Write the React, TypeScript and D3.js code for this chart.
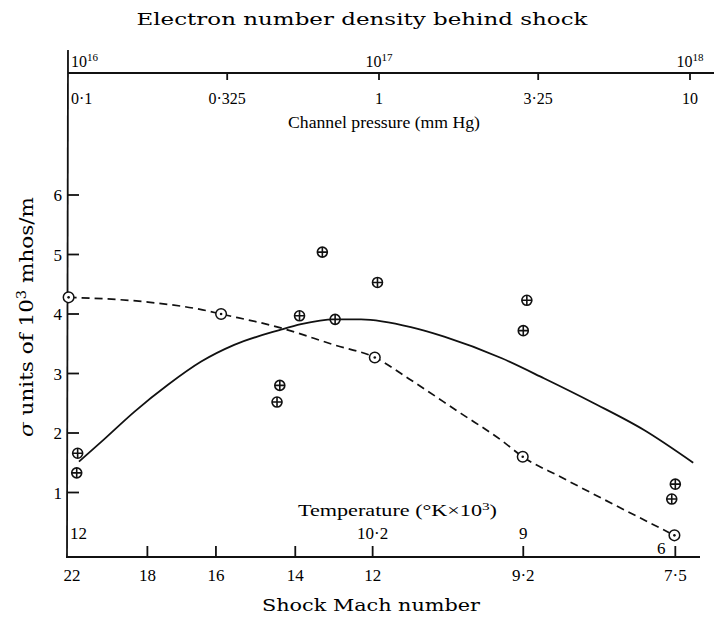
import React from 'react';
import * as d3 from 'd3';

const W = 714;
const H = 627;

// top axis: channel pressure (mm Hg)
const pressureTicks = [0.1, 0.325, 1, 3.25, 10];
const pressureLabels = ['0·1', '0·325', '1', '3·25', '10'];

// top labels: electron number density
const densityTicks = [1e16, 1e17, 1e18];
const densityExp = ['16', '17', '18'];

// bottom axis: shock Mach number, with the channel pressure it lines up with
const machTicks = [22, 18, 16, 14, 12, 9.2, 7.5];
const machLabels = ['22', '18', '16', '14', '12', '9·2', '7·5'];
const machPressure = [0.103, 0.18, 0.299, 0.538, 0.954, 2.91, 8.97];

// temperature labels (°K x 10^3) at Mach positions
const tempMach = [22, 12, 9.2, 7.5];
const tempLabels = ['12', '10·2', '9', '6'];

const sigmaTicks = [1, 2, 3, 4, 5, 6];

// measured points, circle with cross
const crossMach = [21.7, 21.75, 13.3, 13.89, 12.97, 11.91, 14.39, 14.46, 9.16, 9.2, 7.5, 7.54];
const crossSigma = [1.66, 1.33, 5.04, 3.97, 3.91, 4.53, 2.8, 2.52, 4.23, 3.72, 1.14, 0.89];

// measured points, circle with dot
const dotMach = [22.18, 15.87, 11.96, 9.21, 7.51];
const dotSigma = [4.28, 4.0, 3.27, 1.6, 0.28];

// solid curve
const solidMach = [21.63, 20.45, 18.68, 17.4, 16.43, 15.54, 14.4, 13.85, 12.99, 12.3, 11.29, 10.67, 9.61, 8.97, 8.41, 7.85, 7.3];
const solidSigma = [1.52, 1.85, 2.36, 2.81, 3.2, 3.48, 3.73, 3.83, 3.91, 3.91, 3.78, 3.62, 3.26, 2.92, 2.5, 2.05, 1.5];

// dashed curve
const dashMach = [22.18, 17.98, 16.39, 15.87, 14.44, 12.99, 11.96, 11.29, 10.36, 9.61, 9.21, 8.78, 7.51];
const dashSigma = [4.28, 4.2, 4.07, 4.0, 3.78, 3.48, 3.27, 2.89, 2.33, 1.88, 1.6, 1.26, 0.28];

const serif = '"Liberation Serif", "Times New Roman", serif';
const wide = '"DejaVu Serif", serif';

const App: React.FC = () => {
  const pScale = d3.scaleLog().domain([0.1, 10]).range([68, 690]);
  const nScale = d3.scaleLog().domain([1e16, 1e18]).range([68, 690]);
  const xScale = d3.scaleLinear().domain(machTicks).range(machPressure.map((p) => pScale(p)));
  const yScale = d3.scaleLinear().domain([0, 7]).range([552, 135.5]);

  const axisLeft = pScale(0.1);
  const topY = 73;
  const bottomY = 557;

  const line = d3
    .line<[number, number]>()
    .x((d) => xScale(d[0]))
    .y((d) => yScale(d[1]))
    .curve(d3.curveMonotoneX);

  const solid = line(solidMach.map((m, i) => [m, solidSigma[i]]));
  const dashed = line(dashMach.map((m, i) => [m, dashSigma[i]]));

  return (
    <svg width={W} height={H} style={{ position: 'absolute', left: 0, top: 0, background: '#fff' }}>
      <text x={362} y={25} fontFamily={wide} fontSize={17} textAnchor="middle" textLength={451} lengthAdjust="spacingAndGlyphs">
        Electron number density behind shock
      </text>

      {/* axes */}
      <g stroke="#111" strokeWidth={1.8} fill="none">
        <line x1={axisLeft} y1={50} x2={axisLeft - 1} y2={bottomY} />
        <line x1={axisLeft} y1={topY} x2={W} y2={topY} />
        <line x1={axisLeft - 2} y1={bottomY} x2={700} y2={bottomY} />
        {pressureTicks.slice(1).map((p) => (
          <line key={p} x1={pScale(p)} x2={pScale(p)} y1={topY} y2={topY + 7} />
        ))}
        {machTicks.slice(1).map((m) => (
          <line key={m} x1={xScale(m)} x2={xScale(m)} y1={bottomY} y2={bottomY - 11} />
        ))}
        {sigmaTicks.map((s) => (
          <line key={s} x1={axisLeft} x2={axisLeft + 11} y1={yScale(s)} y2={yScale(s)} />
        ))}
      </g>

      {/* electron density labels */}
      {densityTicks.map((n, i) => (
        <text
          key={n}
          x={i === 0 ? nScale(n) + 3 : nScale(n)}
          y={67}
          fontFamily={serif}
          fontSize={16}
          textAnchor={i === 0 ? 'start' : 'middle'}
        >
          10<tspan fontSize={11} dy={-6}>{densityExp[i]}</tspan>
        </text>
      ))}

      {/* pressure labels */}
      {pressureTicks.map((p, i) => (
        <text
          key={p}
          x={i === 0 ? pScale(p) + 3 : pScale(p)}
          y={104}
          fontFamily={serif}
          fontSize={16}
          textAnchor={i === 0 ? 'start' : 'middle'}
        >
          {pressureLabels[i]}
        </text>
      ))}
      <text x={288} y={128} fontFamily={serif} fontSize={16} textLength={192} lengthAdjust="spacingAndGlyphs">
        Channel pressure (mm Hg)
      </text>

      {/* sigma labels */}
      {sigmaTicks.map((s) => (
        <text key={s} x={62} y={yScale(s) + 6} fontFamily={serif} fontSize={17} textAnchor="end">
          {s}
        </text>
      ))}
      <text
        transform={`translate(33, 317) rotate(-90)`}
        fontFamily={wide}
        fontSize={19}
        textAnchor="middle"
        textLength={240}
        lengthAdjust="spacingAndGlyphs"
      >
        <tspan fontStyle="italic">σ</tspan> units of 10<tspan fontSize={13} dy={-7}>3</tspan>
        <tspan dy={7}> mhos/m</tspan>
      </text>

      {/* temperature */}
      <text x={298} y={516} fontFamily={serif} fontSize={16} textLength={199} lengthAdjust="spacingAndGlyphs">
        Temperature (°K×10<tspan fontSize={11} dy={-6}>3</tspan>
        <tspan dy={6}>)</tspan>
      </text>
      {tempMach.map((m, i) => {
        const first = i === 0;
        const last = i === tempMach.length - 1;
        return (
          <text
            key={m}
            x={first ? axisLeft + 2 : last ? xScale(m) - 14 : xScale(m)}
            y={last ? 554 : 539}
            fontFamily={serif}
            fontSize={17}
            textAnchor={first ? 'start' : 'middle'}
          >
            {tempLabels[i]}
          </text>
        );
      })}

      {/* mach labels */}
      {machTicks.map((m, i) => (
        <text key={m} x={xScale(m)} y={581} fontFamily={serif} fontSize={17} textAnchor="middle">
          {machLabels[i]}
        </text>
      ))}
      <text x={371} y={611} fontFamily={wide} fontSize={17} textAnchor="middle" textLength={218} lengthAdjust="spacingAndGlyphs">
        Shock Mach number
      </text>

      {/* curves */}
      <path d={solid ?? ''} fill="none" stroke="#111" strokeWidth={1.8} />
      <path d={dashed ?? ''} fill="none" stroke="#111" strokeWidth={1.7} strokeDasharray="8 5" />

      {/* points */}
      {crossMach.map((m, i) => {
        const cx = xScale(m);
        const cy = yScale(crossSigma[i]);
        const r = 5;
        return (
          <g key={`c${i}`} stroke="#111" strokeWidth={1.6} fill="#fff">
            <circle cx={cx} cy={cy} r={r} />
            <path d={`M${cx - r},${cy}H${cx + r}M${cx},${cy - r}V${cy + r}`} />
          </g>
        );
      })}
      {dotMach.map((m, i) => {
        const cx = xScale(m);
        const cy = yScale(dotSigma[i]);
        return (
          <g key={`d${i}`}>
            <circle cx={cx} cy={cy} r={5.3} fill="#fff" stroke="#111" strokeWidth={1.5} />
            <circle cx={cx} cy={cy} r={1.3} fill="#111" />
          </g>
        );
      })}
    </svg>
  );
};

export default App;
